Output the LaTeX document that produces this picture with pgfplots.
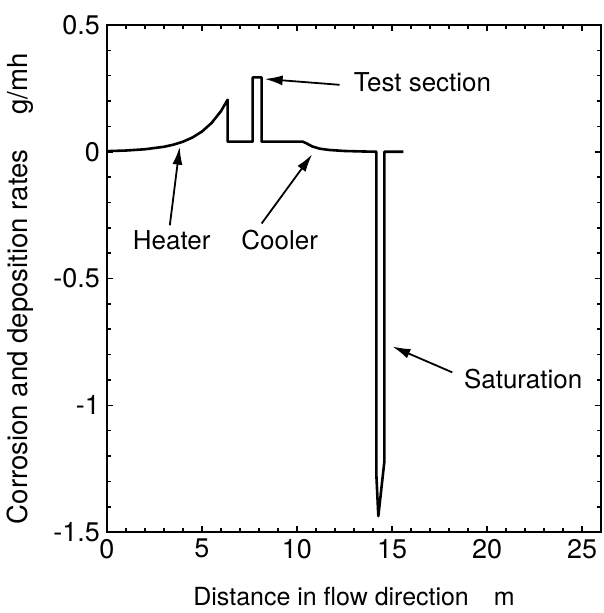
\documentclass[border=0pt]{standalone}
\usepackage{fontspec}
\setmainfont{TeX Gyre Heros}
\usepackage{pgfplots}
\pgfplotsset{compat=1.18}
\usetikzlibrary{arrows.meta}
\begin{document}
\begin{tikzpicture}
\begin{axis}[
  name=ax,
  scale only axis,
  width=247.5pt, height=254pt,
  xmin=0, xmax=26, ymin=-1.5, ymax=0.5,
  xtick={0,5,10,15,20,25},
  ytick={-1.5,-1,-0.5,0,0.5},
  yticklabels={-1.5,-1,-0.5,0,0.5},
  minor xtick={1,2,3,4,6,7,8,9,11,12,13,14,16,17,18,19,21,22,23,24,26},
  minor ytick={-1.4,-1.3,-1.2,-1.1,-0.9,-0.8,-0.7,-0.6,-0.4,-0.3,-0.2,-0.1,0.1,0.2,0.3,0.4},
  major tick length=3.2pt, minor tick length=2pt,
  every tick/.style={black, line width=0.8pt},
  axis line style={line width=0.9pt},
  /pgf/number format/assume math mode=true,
  tick label style={font=\fontsize{13.5}{15}\selectfont},
  xlabel={Distance in flow direction\quad m},
  ylabel={Corrosion and deposition rates\quad\ g/mh},
  xlabel style={font=\fontsize{12.5}{15}\selectfont, at={(axis description cs:0.5,-0.128)}, anchor=center},
  ylabel style={font=\fontsize{13.8}{15}\selectfont, at={(axis description cs:-0.176,0.48)}, anchor=center},
  clip=false,
]
\addplot[black, line width=1.3pt, line join=round] coordinates {
 (0,0.0024) (1,0.0048) (2,0.0098) (3,0.0196) (3.5,0.0279) (4,0.0396) (4.5,0.0562)
 (5,0.0797) (5.5,0.113) (6,0.160) (6.35,0.205)
 (6.35,0.04) (7.67,0.04) (7.67,0.293) (8.14,0.293) (8.14,0.04)
 (10.3,0.04) (10.5,0.033) (10.8,0.021) (11.2,0.012) (11.7,0.007) (12.5,0.003) (13.5,0.001)
 (14.18,0) (14.18,-1.28) (14.28,-1.437) (14.6,-1.22) (14.6,0) (15.6,0)
};
\node[font=\fontsize{13}{15}\selectfont] at (axis cs:3.41,-0.35) {Heater};
\node[font=\fontsize{13}{15}\selectfont] at (axis cs:9.09,-0.35) {Cooler};
\node[font=\fontsize{13}{15}\selectfont] at (axis cs:16.6,0.276) {Test section};
\node[font=\fontsize{13}{15}\selectfont] at (axis cs:21.9,-0.898) {Saturation};
\draw[line width=0.9pt,-{Latex[length=9pt,width=5pt]}] (axis cs:3.31,-0.29) -- (axis cs:3.83,0.02);
\draw[line width=0.9pt,-{Latex[length=9pt,width=5pt]}] (axis cs:8.14,-0.283) -- (axis cs:10.8,-0.01);
\draw[line width=0.9pt,-{Latex[length=9pt,width=5pt]}] (axis cs:12.24,0.264) -- (axis cs:8.3,0.287);
\draw[line width=0.9pt,-{Latex[length=9pt,width=5pt]}] (axis cs:18.17,-0.87) -- (axis cs:15.02,-0.768);
\end{axis}
\path ([shift={(-53.5pt,-40pt)}]ax.south west) rectangle ([shift={(1pt,12.5pt)}]ax.north east);
\end{tikzpicture}
\end{document}
